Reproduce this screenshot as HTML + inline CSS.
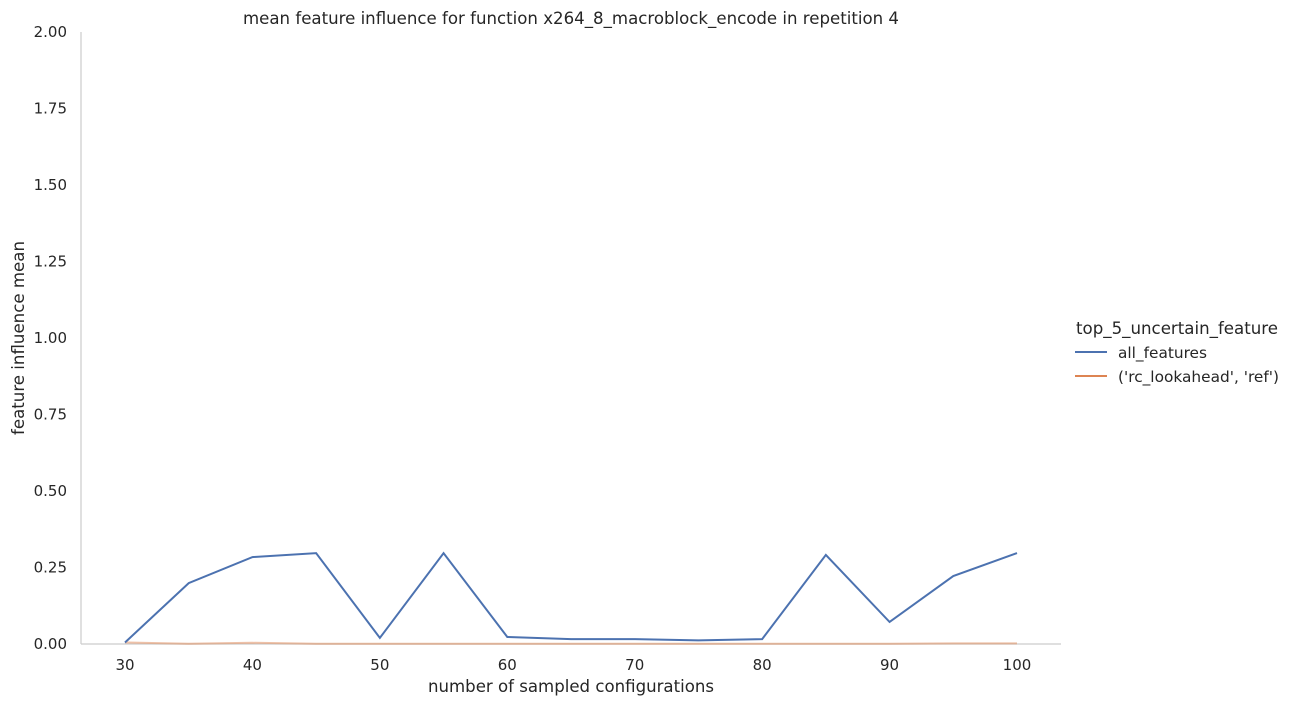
<!DOCTYPE html>
<html><head><meta charset="utf-8"><style>
body{margin:0;background:#fff;font-family:"DejaVu Sans","Liberation Sans",sans-serif;}
svg text{font-family:"DejaVu Sans","Liberation Sans",sans-serif;fill:#262626;}
</style></head><body>
<svg id="chart" width="1292" height="706">
<rect width="1292" height="706" fill="#fff"/>
<text x="571" y="24" text-anchor="middle" font-size="17" textLength="656" lengthAdjust="spacingAndGlyphs">mean feature influence for function x264_8_macroblock_encode in repetition 4</text>
<line x1="81" y1="32" x2="81" y2="644" stroke="#ccc" stroke-width="1.2"/>
<line x1="81" y1="644" x2="1061" y2="644" stroke="#ccc" stroke-width="1.2"/>
<g id="yticks"></g><g id="xticks"></g><g id="series"></g>
<text x="571" y="692" text-anchor="middle" font-size="17" textLength="286" lengthAdjust="spacingAndGlyphs">number of sampled configurations</text>
<text transform="translate(24,338) rotate(-90)" text-anchor="middle" font-size="17" textLength="194" lengthAdjust="spacingAndGlyphs">feature influence mean</text>
<g>
<text x="1177" y="334" text-anchor="middle" font-size="17" textLength="202" lengthAdjust="spacingAndGlyphs">top_5_uncertain_feature</text>
<g><line x1="1075" y1="352" x2="1107" y2="352" stroke="#4c72b0" stroke-width="2"/><text x="1118" y="358" font-size="15" textLength="89" lengthAdjust="spacingAndGlyphs">all_features</text></g>
<g><line x1="1075" y1="376" x2="1107" y2="376" stroke="#dd8452" stroke-width="2"/><text x="1118" y="382" font-size="15" textLength="161" lengthAdjust="spacingAndGlyphs">('rc_lookahead', 'ref')</text></g>
</g>
</svg>
<script>
const xValues=[30,35,40,45,50,55,60,65,70,75,80,85,90,95,100];
const allFeatures=[0.005,0.199,0.284,0.297,0.02,0.297,0.023,0.016,0.016,0.012,0.016,0.291,0.072,0.222,0.297];
const rcLookahead=[0.005,0.001,0.004,0.001,0.001,0.001,0.001,0.001,0.001,0.001,0.001,0.001,0.001,0.002,0.002];
const yTickLabels=["0.00","0.25","0.50","0.75","1.00","1.25","1.50","1.75","2.00"];
const xTickLabels=[30,40,50,60,70,80,90,100];
const NS="http://www.w3.org/2000/svg";
const xs=v=>125+(v-30)*(1017-125)/70;
const ys=v=>644-v*(644-32)/2;
const yt=document.getElementById('yticks');
yTickLabels.forEach(l=>{const t=document.createElementNS(NS,'text');


t.setAttribute('x',67);t.setAttribute('y',ys(+l)+5);t.setAttribute('text-anchor','end');t.setAttribute('font-size','15');t.textContent=l;yt.appendChild(t);});
const xt=document.getElementById('xticks');
xTickLabels.forEach(l=>{const t=document.createElementNS(NS,'text');


t.setAttribute('x',xs(l));t.setAttribute('y',670);t.setAttribute('text-anchor','middle');t.setAttribute('font-size','15');t.textContent=l;xt.appendChild(t);});
const sg=document.getElementById('series');
function line(vals,color,name,op){const p=document.createElementNS(NS,'polyline');


p.setAttribute('points',vals.map((v,i)=>xs(xValues[i])+','+ys(v)).join(' '));
p.setAttribute('fill','none');p.setAttribute('stroke',color);p.setAttribute('stroke-width','2');p.setAttribute('opacity',op);sg.appendChild(p);}
line(rcLookahead,'#dd8452','line-rc-lookahead-ref',0.5);
line(allFeatures,'#4c72b0','line-all-features',1);
</script>
</body></html>
